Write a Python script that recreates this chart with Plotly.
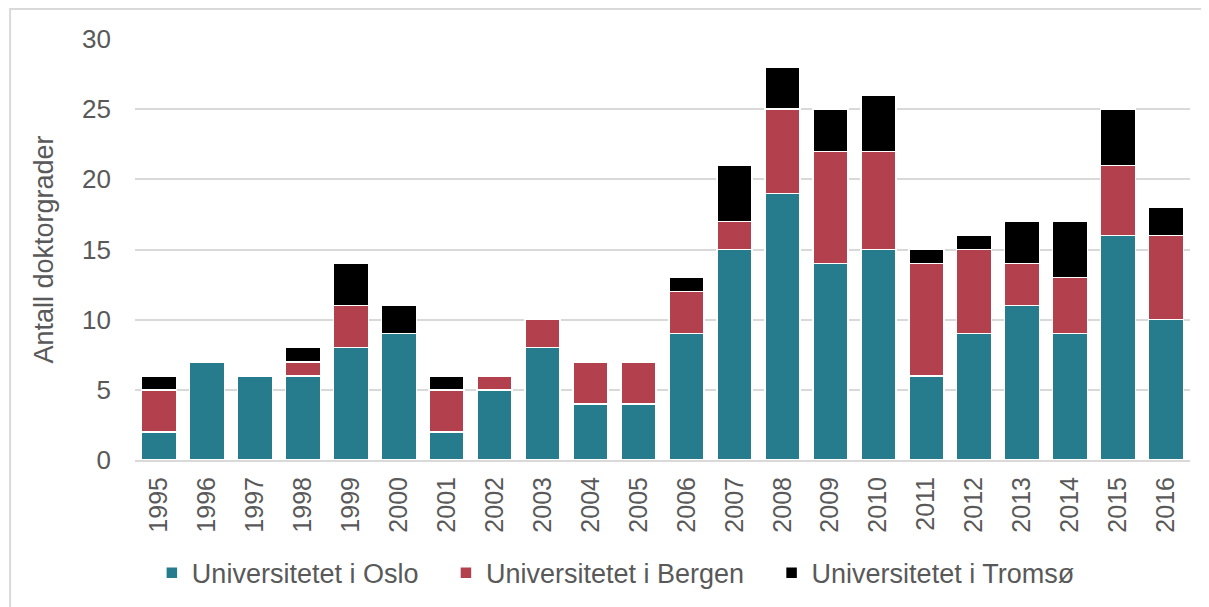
import plotly.graph_objects as go

years = [str(y) for y in range(1995, 2017)]
oslo = [2, 7, 6, 6, 8, 9, 2, 5, 8, 4, 4, 9, 15, 19, 14, 15, 6, 9, 11, 9, 16, 10]
bergen = [3, 0, 0, 1, 3, 0, 3, 1, 2, 3, 3, 3, 2, 6, 8, 7, 8, 6, 3, 4, 5, 6]
tromso = [1, 0, 0, 1, 3, 2, 1, 0, 0, 0, 0, 1, 4, 3, 3, 4, 1, 1, 3, 4, 4, 2]
names = ["Universitetet i Oslo", "Universitetet i Bergen", "Universitetet i Tromsø"]
colors = ["#267C8C", "#B2404D", "#000000"]

pad = "\u00a0" * 3
fig = go.Figure()
for i, (name, vals, col) in enumerate(zip(names, [oslo, bergen, tromso], colors)):
    fig.add_trace(go.Bar(
        x=years, y=vals, name=name + (pad if i < 2 else ""),
        marker=dict(color=col, line=dict(color="white", width=1.5)),
    ))

fam = "Liberation Sans, Arial, sans-serif"
grey = "#595959"
fig.update_layout(
    barmode="stack",
    bargap=0.27,
    width=1209, height=607,
    paper_bgcolor="white", plot_bgcolor="white",
    margin=dict(l=127, r=27, t=31, b=155),
    font=dict(family=fam, size=26, color=grey),
    showlegend=True,
    legend=dict(orientation="h", x=0.119, xanchor="left", xref="container",
                y=0.069, yanchor="middle", yref="container",
                font=dict(family=fam, size=27, color=grey),
                tracegroupgap=0, traceorder="normal"),
    xaxis=dict(tickangle=-90, showgrid=False, showline=True, linecolor="#D9D9D9", linewidth=2,
               ticks="", tickfont=dict(family=fam, size=25, color=grey), automargin=False,
               ticklabelstandoff=5),
    yaxis=dict(range=[0, 30], dtick=5, showgrid=True, gridcolor="#D9D9D9", gridwidth=2,
               zeroline=False, showline=False, ticks="", ticklabelstandoff=23,
               tickfont=dict(family=fam, size=26, color=grey),
               title=dict(text="Antall doktorgrader", font=dict(family=fam, size=27, color=grey),
                          standoff=20)),
    shapes=[dict(type="rect", xref="paper", yref="paper", x0=-0.1184, x1=1.1, y0=-0.9, y1=1.0713,
                 line=dict(color="#D9D9D9", width=2), fillcolor="rgba(0,0,0,0)", layer="below")],
)

fig.write_html("out.html")
